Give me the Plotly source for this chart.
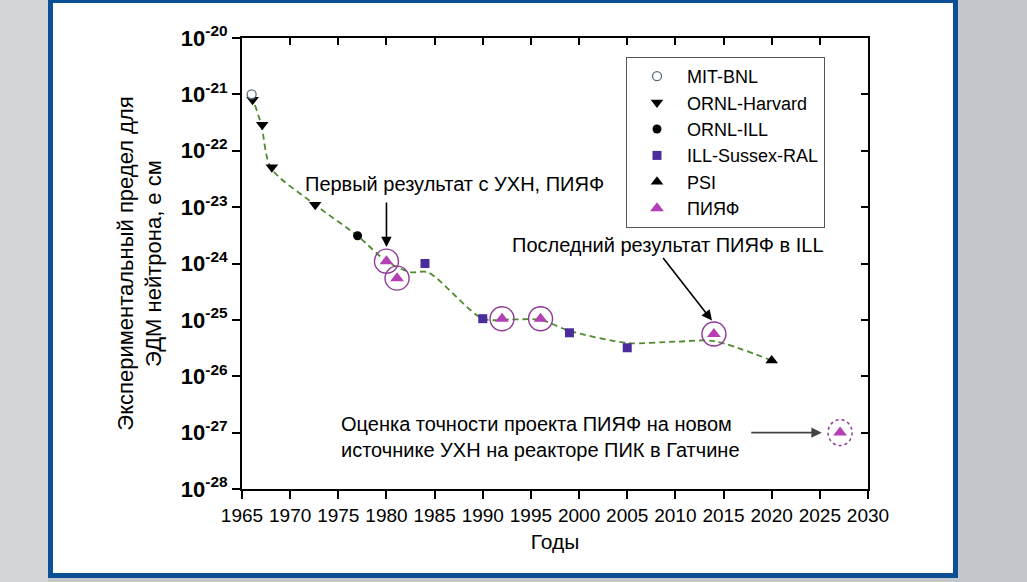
import plotly.graph_objects as go
import numpy as np

# ---------------- data ----------------
mit_year = [1966]
mit_val = [1.0e-21]

ornl_harv_year = [1966.1, 1967.1, 1968.1, 1972.6]
ornl_harv_val = [8.0e-22, 2.9e-22, 5.1e-23, 1.1e-23]

ornl_ill_year = [1977]
ornl_ill_val = [3.1e-24]

ill_sussex_year = [1984, 1990, 1999, 2005]
ill_sussex_val = [1.0e-24, 1.05e-25, 5.9e-26, 3.2e-26]

psi_year = [2020]
psi_val = [1.9e-26]

pnpi_year = [1980, 1981.1, 1992, 1996, 2014]
pnpi_val = [1.1e-24, 5.5e-25, 1.05e-25, 1.05e-25, 5.6e-26]

proj_year = [2027.1]
proj_val = [1.0e-27]

trend_year = [1966, 1967, 1968, 1972.6, 1977, 1980, 1982.5, 1984.3, 1990, 1993, 1996, 1999, 2005, 2010, 2014, 2020]
trend_val = [9.5e-22, 2.9e-22, 5.0e-23, 1.1e-23, 3.1e-24, 1.1e-24, 7.0e-25, 7.0e-25, 1.05e-25, 1.02e-25, 1.0e-25,
             6.4e-26, 3.9e-26, 4.1e-26, 4.2e-26, 1.9e-26]

x_ticks = list(range(1965, 2031, 5))
y_exps = list(range(-28, -19))
y_ticktext = ["<b>10<sup>%d</sup></b>" % e for e in y_exps]

# ---------------- styling ----------------
FONT = "Liberation Sans, Arial, sans-serif"
PURPLE_SQ = "#4a2c9c"
PINK = "#b43fb4"
RING = "#8e3a96"
GREEN = "#4f8a2f"

# plot area in pixels (for frame shapes in paper coords)
W, H = 1027, 582
L, R, T, B = 242, 868, 38, 489


def px2paper_x(px):
    return (px - L) / (R - L)


def px2paper_y(py):
    return (B - py) / (B - T)


def yr_at(px):
    return 1965 + (px - L) / (R - L) * 65


def lg_at(py):
    return -20 - (py - T) / (B - T) * 8


fig = go.Figure()

# trend line
fig.add_trace(go.Scatter(x=trend_year, y=trend_val, mode="lines",
                         line=dict(color=GREEN, width=1.8, dash="6px,4px", shape="spline", smoothing=0.8),
                         showlegend=False, hoverinfo="skip"))

# rings around PNPI points
fig.add_trace(go.Scatter(x=pnpi_year, y=pnpi_val, mode="markers",
                         marker=dict(symbol="circle-open", size=24, color=RING, line=dict(width=1.4)),
                         showlegend=False, hoverinfo="skip"))

fig.add_trace(go.Scatter(x=ornl_harv_year, y=ornl_harv_val, mode="markers", name="ORNL-Harvard",
                         legendrank=2,
                         marker=dict(symbol="triangle-down", size=11, color="black")))
fig.add_trace(go.Scatter(x=mit_year, y=mit_val, mode="markers", name="MIT-BNL",
                         legendrank=1,
                         marker=dict(symbol="circle", size=9, color="white",
                                     line=dict(color="#5a6a80", width=1.3))))
fig.add_trace(go.Scatter(x=ornl_ill_year, y=ornl_ill_val, mode="markers", name="ORNL-ILL",
                         legendrank=3,
                         marker=dict(symbol="circle", size=9, color="black")))
fig.add_trace(go.Scatter(x=ill_sussex_year, y=ill_sussex_val, mode="markers", name="ILL-Sussex-RAL",
                         legendrank=4,
                         marker=dict(symbol="square", size=9, color=PURPLE_SQ)))
fig.add_trace(go.Scatter(x=psi_year, y=psi_val, mode="markers", name="PSI",
                         legendrank=5,
                         marker=dict(symbol="triangle-up", size=11, color="black")))
fig.add_trace(go.Scatter(x=pnpi_year + proj_year, y=pnpi_val + proj_val, mode="markers", name="ПИЯФ",
                         legendrank=6,
                         marker=dict(symbol="triangle-up", size=12, color=PINK)))

# dummy trace to register the mirrored axes
fig.add_trace(go.Scatter(x=[], y=[], xaxis="x2", yaxis="y2", showlegend=False, hoverinfo="skip"))

ring_dx = 1.25   # years  (~12 px)
ring_dy = 0.23   # decades (~13 px)
shapes = [
    # outer blue frame
    dict(type="rect", xref="paper", yref="paper", layer="below",
         x0=px2paper_x(48), x1=px2paper_x(958), y0=px2paper_y(578), y1=px2paper_y(0),
         fillcolor="#0b4f96", line=dict(width=0)),
    # left lighter gray strip
    dict(type="rect", xref="paper", yref="paper", layer="below",
         x0=px2paper_x(0), x1=px2paper_x(48), y0=px2paper_y(582), y1=px2paper_y(0),
         fillcolor="#d4d6d9", line=dict(width=0)),
    # inner white panel
    dict(type="rect", xref="paper", yref="paper", layer="below",
         x0=px2paper_x(53), x1=px2paper_x(953), y0=px2paper_y(573), y1=px2paper_y(3),
         fillcolor="white", line=dict(width=0)),
    # dashed circle around projected point
    dict(type="circle", xref="x", yref="y",
         x0=proj_year[0] - ring_dx, x1=proj_year[0] + ring_dx,
         y0=proj_val[0] / 10 ** ring_dy, y1=proj_val[0] * 10 ** ring_dy,
         line=dict(color=RING, width=1.5, dash="dot")),
]

ANN_FONT = dict(size=20, family=FONT, color="black")
annotations = [
    dict(x=yr_at(303), y=lg_at(184), xref="x", yref="y", text="Первый результат с УХН, ПИЯФ",
         showarrow=False, xanchor="left", yanchor="middle", font=ANN_FONT),
    dict(x=pnpi_year[0], y=np.log10(pnpi_val[0]) + 0.25, xref="x", yref="y", text="",
         showarrow=True, ax=0, ay=-46, arrowhead=2, arrowsize=1.3, arrowwidth=1.6, arrowcolor="black"),
    dict(x=yr_at(510), y=lg_at(245), xref="x", yref="y", text="Последний результат ПИЯФ в ILL",
         showarrow=False, xanchor="left", yanchor="middle", font=ANN_FONT),
    dict(x=pnpi_year[4] - 0.2, y=np.log10(pnpi_val[4]) + 0.24, xref="x", yref="y", text="",
         showarrow=True, ax=-50, ay=-64, arrowhead=2, arrowsize=1.3, arrowwidth=1.6, arrowcolor="black"),
    dict(x=yr_at(339), y=lg_at(437), xref="x", yref="y",
         text="Оценка точности проекта ПИЯФ на новом<br>источнике УХН на реакторе ПИК в Гатчине",
         showarrow=False, xanchor="left", yanchor="middle", align="left", font=ANN_FONT),
    dict(x=proj_year[0] - 1.9, y=np.log10(proj_val[0]), xref="x", yref="y", text="",
         showarrow=True, ax=-72, ay=0, arrowhead=2, arrowsize=1.3, arrowwidth=1.6, arrowcolor="#444444"),
]

axis_common = dict(showgrid=False, zeroline=False, showline=True, linecolor="black", linewidth=2,
                   tickcolor="black", tickwidth=1.6)

fig.update_layout(
    width=W, height=H,
    margin=dict(l=L, r=W - R, t=T, b=H - B, pad=0),
    paper_bgcolor="#c3c6ca",
    plot_bgcolor="white",
    font=dict(family=FONT, color="black"),
    xaxis=dict(range=[1965, 2030], tickvals=x_ticks, ticks="outside", ticklen=8,
               tickfont=dict(size=19), title=dict(text="Годы", font=dict(size=21), standoff=10),
               **axis_common),
    xaxis2=dict(range=[1965, 2030], tickvals=x_ticks, ticks="inside", ticklen=7, overlaying="x",
                side="top", anchor="y", showticklabels=False, **axis_common),
    yaxis=dict(type="log", range=[-28, -20], tickvals=[10.0 ** e for e in y_exps], ticktext=y_ticktext,
               ticks="outside", ticklen=8, tickfont=dict(size=22),
               title=dict(text="Экспериментальный предел для<br>ЭДМ нейтрона, е см", font=dict(size=22),
                          standoff=13),
               **axis_common),
    yaxis2=dict(type="log", range=[-28, -20], tickvals=[10.0 ** e for e in y_exps], ticks="inside",
                ticklen=7, overlaying="y", side="right", anchor="x", showticklabels=False, **axis_common),
    legend=dict(x=px2paper_x(626), y=px2paper_y(57), xanchor="left", yanchor="top",
                bgcolor="white", bordercolor="#555555", borderwidth=1,
                font=dict(size=18, family=FONT), tracegroupgap=0,
                itemwidth=50),
    shapes=shapes,
    annotations=annotations,
    showlegend=True,
)

fig.write_html("out.html")
